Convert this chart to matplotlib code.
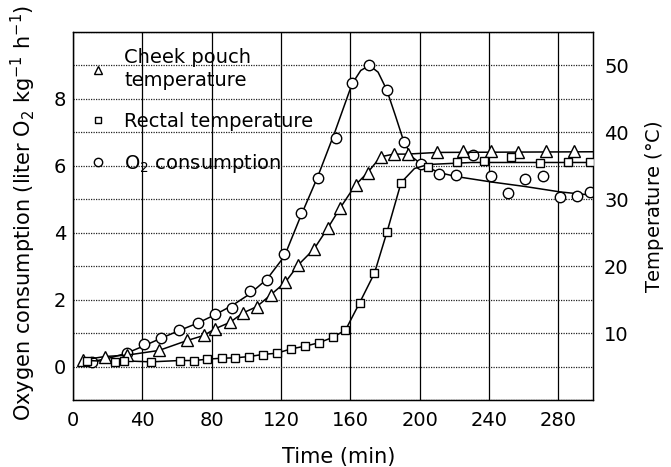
import numpy as np
import matplotlib.pyplot as plt
from matplotlib.lines import Line2D

plt.rcParams['font.family'] = 'DejaVu Sans'
plt.rcParams['font.size'] = 14

# O2 consumption (liter O2 kg-1 h-1) against time (min)
o2_t = [11, 31, 41, 51, 61, 72, 82, 92, 102, 112, 122, 131.5, 141.5, 152, 161, 171,
        181, 191, 201, 211, 221, 231, 241, 251, 261, 271, 281, 291, 298]
o2_v = [0.15, 0.40, 0.67, 0.85, 1.09, 1.30, 1.57, 1.75, 2.25, 2.59, 3.36, 4.59, 5.63,
        6.82, 8.49, 9.0, 8.27, 6.70, 6.05, 5.75, 5.72, 6.33, 5.70, 5.20, 5.62, 5.70,
        5.08, 5.10, 5.23]
# smoothed curve drawn through the O2 points
o2_curve_t = [11, 20, 31, 41, 51, 61, 72, 82, 92, 102, 112, 122, 131, 141, 151, 161,
              166, 171, 176, 181, 186, 191, 196, 201, 211, 221, 241, 261, 281, 300]
o2_curve_v = [0.15, 0.24, 0.40, 0.62, 0.85, 1.07, 1.30, 1.55, 1.83, 2.17, 2.62, 3.30,
              4.45, 5.65, 7.0, 8.45, 8.85, 9.0, 8.8, 8.27, 7.5, 6.7, 6.25, 6.05, 5.8,
              5.68, 5.52, 5.38, 5.22, 5.12]

# cheek pouch temperature (C)
cheek_t = [6, 18.5, 31, 49.5, 66, 75.5, 82, 90.5, 98, 106, 114, 122.5, 130, 139, 147,
           154, 163, 170, 177.5, 185, 193, 210, 225, 241, 257, 273, 289]
cheek_v = [6.0, 6.5, 6.7, 7.4, 8.9, 9.65, 10.65, 11.6, 13.0, 13.95, 15.7, 17.6, 20.2,
           22.55, 25.7, 28.65, 32.15, 34.0, 36.35, 36.75, 36.75, 37.1, 37.25, 37.25,
           37.1, 37.25, 37.25]
cheek_curve_t = cheek_t[:21] + [210, 300]
cheek_curve_v = cheek_v[:21] + [37.0, 37.1]

# rectal temperature (C)
rectal_t = [8, 24, 29.5, 45, 61.5, 70, 77.5, 86, 93.7, 101.8, 109.4, 117.7, 126, 134,
            141.8, 149.8, 157.2, 165.3, 173.9, 181.2, 189.3, 205, 221.6, 237.2, 252.6,
            269.5, 285.8, 298.4]
rectal_v = [5.9, 5.75, 5.85, 5.7, 5.9, 5.9, 6.1, 6.25, 6.3, 6.5, 6.8, 7.0, 7.65, 8.05,
            8.55, 9.35, 10.45, 14.5, 18.95, 25.15, 32.5, 34.75, 35.6, 35.75, 36.25,
            35.4, 35.6, 35.5]
rectal_curve_t = rectal_t[:21] + [197, 205, 230, 300]
rectal_curve_v = rectal_v[:21] + [34.6, 35.2, 35.5, 35.5]

fig = plt.figure(figsize=(6.71, 4.67), dpi=100)
ax = fig.add_axes([73 / 671, 67 / 467, 520 / 671, 368 / 467])
ax2 = ax.twinx()

ax.set_xlim(0, 300)
ax.set_ylim(-1, 10)
ax2.set_ylim(0, 55)

ax.set_xticks(np.arange(0, 281, 40))
ax.set_yticks(np.arange(0, 9, 2))
ax.set_yticks(np.arange(-1, 11, 1), minor=True)
ax2.set_yticks(np.arange(10, 51, 10))

ax.tick_params(axis='both', which='both', length=0)
ax.tick_params(axis='y', pad=5)
ax.tick_params(axis='x', pad=8)
ax2.tick_params(axis='y', length=0, pad=8)

ax.grid(axis='x', color='black', lw=0.9, ls='-')
ax.grid(axis='y', which='both', color='#222222', lw=0.9, ls=(0, (1, 1)))
for a in (ax, ax2):
    for s in a.spines.values():
        s.set_linewidth(0.9)

mk = dict(mfc='white', mec='black', mew=1.0, ls='none')

ax.plot(o2_curve_t, o2_curve_v, color='black', lw=1.1, zorder=3)
ax.plot(o2_t, o2_v, marker='o', ms=7.5, zorder=4, **mk)

ax2.plot(cheek_curve_t, cheek_curve_v, color='black', lw=1.1, zorder=3)
ax2.plot(cheek_t, cheek_v, marker='^', ms=8, zorder=4, **mk)
ax2.plot(rectal_curve_t, rectal_curve_v, color='black', lw=1.1, zorder=3)
ax2.plot(rectal_t, rectal_v, marker='s', ms=5.5, zorder=4, **mk)

handles = [
    Line2D([], [], marker='^', ms=6, **mk),
    Line2D([], [], marker='s', ms=4.5, **mk),
    Line2D([], [], marker='o', ms=6, **mk),
]
labels = ['Cheek pouch\ntemperature', 'Rectal temperature', 'O$_2$ consumption']
leg = ax2.legend(handles, labels, loc='upper left', bbox_to_anchor=(0.029, 0.957),
                 frameon=False, borderpad=0, borderaxespad=0, handlelength=1.0,
                 handletextpad=0.85, labelspacing=1.1, fontsize=14)
leg.get_texts()[0].set_linespacing(1.3)

fig.text(23 / 671, 1 - 213 / 467,
         'Oxygen consumption (liter O$_2$ kg$^{-1}$ h$^{-1}$)',
         rotation=90, ha='center', va='center', fontsize=15)
fig.text(654 / 671, 1 - 207 / 467, 'Temperature ($\\degree$C)',
         rotation=90, ha='center', va='center', fontsize=14)
fig.text(339 / 671, 1 - 457 / 467, 'Time (min)', ha='center', va='center', fontsize=15)

fig.savefig('out.png', dpi=100)
